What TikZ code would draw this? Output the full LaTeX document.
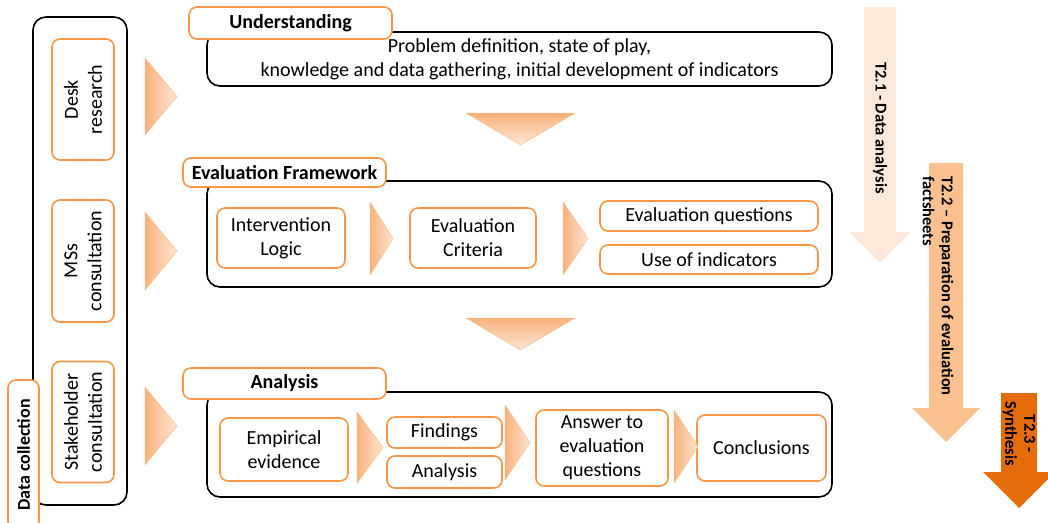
\documentclass[tikz,border=0pt]{standalone}
\usepackage{fontspec}
\setmainfont{Carlito}
\usetikzlibrary{positioning}

\definecolor{boxorange}{HTML}{F79646}
\definecolor{chevdark}{HTML}{F9B27C}
\definecolor{chevlight}{HTML}{FDE6D4}
\definecolor{taskone}{HTML}{FDE9D9}
\definecolor{tasktwo}{HTML}{FAC090}
\definecolor{taskthree}{HTML}{E46C0A}

\tikzset{
  txt/.style={font=\fontsize{20}{24}\selectfont, align=center},
  obox/.style={txt, draw=boxorange, line width=1.6pt, rounded corners=8pt, fill=white, inner sep=1pt},
  kbox/.style={txt, draw=black, line width=1.6pt, rounded corners=13pt},
  headbox/.style={obox, font=\fontsize{20}{23}\selectfont\bfseries},
  tasktxt/.style={font=\fontsize{16.5}{19}\selectfont\bfseries, rotate=-90},
  chev/.style={draw=boxorange!70, line width=0.4pt}
}

% chevron pointing right: x1, ytop, xtip, ybottom
\newcommand\chevright[4]{\shade[chev, left color=chevdark, right color=chevlight] (#1,#2) -- (#3,{(#2+#4)/2}) -- (#1,#4) -- cycle;}
% chevron pointing down: xleft, ytop, xright, ytip
\newcommand\chevdown[4]{\shade[chev, top color=chevdark, bottom color=chevlight] (#1,#2) -- (#3,#2) -- ({(#1+#3)/2},#4) -- cycle;}
% big task arrow: shaft x1, shaft x2, top, head y, head x1, head x2, tip y, colour
\newcommand\taskarrow[8]{\fill[#8] (#1,#3) -- (#2,#3) -- (#2,#4) -- (#6,#4) -- ({(#5+#6)/2},#7) -- (#5,#4) -- (#1,#4) -- cycle;}

\begin{document}
\begin{tikzpicture}[x=1pt,y=-1pt]
\useasboundingbox (0,0) rectangle (1048,522);

% data collection column
\node[kbox, minimum width=94, minimum height=488] (dcol) at (80,261) {};
\node[obox, rotate=90, minimum width=121, minimum height=62] (desk) at (83,99.5) {Desk\\research};
\node[obox, rotate=90, minimum width=122, minimum height=62] (mss) at (83,261) {MSs\\consultation};
\node[obox, rotate=90, minimum width=121, minimum height=62] (stake) at (83,422) {Stakeholder\\consultation};
\node[obox, rotate=90, minimum width=150, minimum height=31, font=\fontsize{18}{21}\selectfont\bfseries] (dlab) at (23.5,455) {Data collection};

\chevright{145}{58}{177}{135}
\chevright{145}{212}{177}{290}
\chevright{145}{387}{177}{465}

% understanding
\node[kbox, minimum width=625, minimum height=54] (und) at (519.5,59) {Problem definition, state of play,\\knowledge and data gathering, initial development of indicators};
\node[headbox, minimum width=203, minimum height=32] (undhead) at (290.5,23) {Understanding};

\chevdown{466}{113}{575}{145}

% evaluation framework
\node[kbox, minimum width=625, minimum height=106] (evf) at (519.5,234) {};
\node[headbox, minimum width=203, minimum height=29] (evfhead) at (284.5,172.5) {Evaluation Framework};
\node[obox, minimum width=128, minimum height=60] (intl) at (281,238) {Intervention\\Logic};
\node[obox, minimum width=126, minimum height=60] (evc) at (473,238) {Evaluation\\Criteria};
\node[obox, minimum width=218, minimum height=30] (evq) at (709,216) {Evaluation questions};
\node[obox, minimum width=218, minimum height=29] (uoi) at (709,259.5) {Use of indicators};
\chevright{370}{202}{393}{275}
\chevright{563}{202}{588}{275}

\chevdown{466}{318}{575}{350}

% analysis
\node[kbox, minimum width=625, minimum height=105] (ana) at (519.5,444.5) {};
\node[headbox, minimum width=203, minimum height=31] (anahead) at (284.5,383.5) {Analysis};
\node[obox, minimum width=128, minimum height=63] (emp) at (284,449.5) {Empirical\\evidence};
\node[obox, minimum width=115, minimum height=31] (fnd) at (444.5,432.5) {Findings};
\node[obox, minimum width=115, minimum height=32] (anl) at (444.5,472) {Analysis};
\node[obox, minimum width=132, minimum height=76] (ans) at (602,448) {Answer to\\evaluation\\questions};
\node[obox, minimum width=129, minimum height=66] (con) at (761.5,448) {Conclusions};
\chevright{357}{412}{383}{483}
\chevright{505}{405}{530}{480}
\chevright{674}{410}{698}{483}

% tasks
\taskarrow{864}{896}{7}{232}{849}{911}{263}{taskone}
\node[tasktxt] (tone) at (880,128) {T2.1 - Data analysis};
\taskarrow{929}{963}{163}{408}{912}{980}{442}{tasktwo}
\node[tasktxt, align=left] (ttwo) at (938,286) {T2.2 -- Preparation of evaluation\\factsheets};
\taskarrow{1001}{1037}{393}{472}{983}{1055}{508}{taskthree}
\node[tasktxt, align=center] (tthree) at (1019,434) {T2.3 -\\Synthesis};

\end{tikzpicture}
\end{document}
